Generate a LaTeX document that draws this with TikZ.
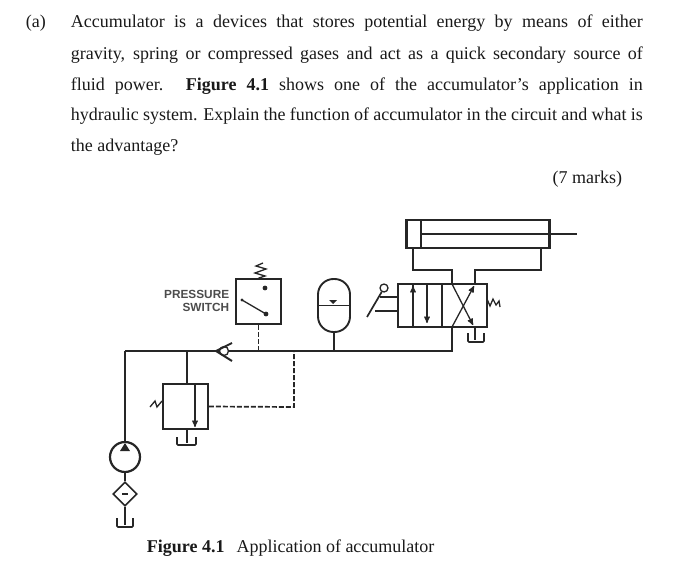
\documentclass[tikz,border=0pt]{standalone}
\usepackage{fontspec}
\setmainfont{Liberation Serif}
\setsansfont{Liberation Sans}
\usepackage{tikz}
\usetikzlibrary{arrows,shapes.geometric}

\begin{document}
\begin{tikzpicture}[>=stealth',x=1pt,y=-1pt,line width=1.7pt,
    color=black!85,
    box/.style={draw,rectangle,inner sep=0pt},
    txt/.style={inner sep=0pt,text=black!90,font=\fontsize{18pt}{20pt}\selectfont},
    thin line/.style={line width=1.3pt},
    pilot/.style={line width=1.7pt,dash pattern=on 5pt off 2pt},
    tank/.style={line width=1.6pt,rounded corners=1pt}]
\useasboundingbox (0,0) rectangle (700,572);

% question text
\node[txt,anchor=base west] (PART) at(25,28) {(a)};
\node[txt,anchor=base west] (L1) at(70,28)
  {\makebox[572pt][s]{Accumulator is a devices that stores potential energy by means of either}};
\node[txt,anchor=base west] (L2) at(70,59.5)
  {\makebox[572pt][s]{gravity, spring or compressed gases and act as a quick secondary source of}};
\node[txt,anchor=base west] (L3) at(70,90.5)
  {\makebox[572pt][s]{fluid power. \textbf{Figure 4.1} shows one of the accumulator's application in}};
\node[txt,anchor=base west] (L4) at(70,121)
  {\makebox[572pt][s]{hydraulic system. Explain the function of accumulator in the circuit and what is}};
\node[txt,anchor=base west] (L5) at(70,151) {the advantage?};
\node[txt,anchor=base east] (MARKS) at(623,183.5) {(7 marks)};
\node[txt,anchor=base west] (CAP) at(146,552.5) {\textbf{Figure 4.1}\hspace{12pt}Application of accumulator};

% cylinder
\node[box,minimum width=142pt,minimum height=28pt] (CYL) at(478,234) {};
\coordinate (PIST) at(421,234);
\draw (PIST |- CYL.north) -- (PIST |- CYL.south);
\draw[line width=2.6pt] (CYL.north west) -- (CYL.south west);
\draw[line width=2.6pt] (CYL.north east) -- (CYL.south east);
\coordinate (ROD) at(577,234);
\draw[thin line] (PIST) -- (ROD);

% directional valve
\node[box,minimum width=89pt,minimum height=43pt] (VALVE) at(442.5,305.5) {};
\draw (413,284) -- (413,327);
\draw (442,284) -- (442,327);
\draw[thin line,->] (413,305) -- (413,286);
\draw[thin line,->] (427,285) -- (427,323);
\draw[thin line,->] (452,284) -- (473,325);
\draw[thin line,->] (452,327) -- (474,286);

% lines from valve to cylinder
\coordinate (CL) at(413,270);
\coordinate (CR) at(541,270);
\draw (413,248) -- (CL) -- (452,270) -- (452,284);
\draw (541,248) -- (CR) -- (475,270) -- (475,284);

% lever and spring of valve
\node[draw,circle,thin line,minimum size=8pt,inner sep=0pt] (KNOB) at(384,288) {};
\coordinate (LEVER) at(367,317);
\draw (KNOB) -- (LEVER);
\draw[thin line] (380,297) -- (VALVE.west |- 0,297);
\draw[thin line] (375,311) -- (VALVE.west |- 0,311);
\draw[thin line] (487,299) -- (490,306) -- (493,299) -- (496,305) -- (499,301) -- (500,307);

% tank of valve
\draw (475,327) -- (475,340);
\draw[tank] (468,333) -- (468,342) -- (484,342) -- (484,333);

% main line
\coordinate (MAINL) at(125,351);
\coordinate (MAINR) at(452,351);
\draw (MAINL) -- (MAINR) -- (452,327);

% accumulator
\node[draw,rectangle,rounded corners=15.5pt,minimum width=32pt,minimum height=53pt,inner sep=0pt,line width=1.9pt] (ACC) at(334,305.5) {};
\draw[thin line] (ACC.west) -- (ACC.east);
\fill (329,300) -- (337,300) -- (333,304) -- cycle;
\draw (ACC.south) -- (ACC.south |- MAINR);

% pressure switch
\node[box,minimum width=45pt,minimum height=45pt] (SWITCH) at(258.5,301.5) {};
\node[anchor=east,inner sep=0pt,align=right,text=black!70,font=\sffamily\bfseries\fontsize{11.8pt}{13pt}\selectfont] (PSW) at(230,301) {PRESSURE\\SWITCH};
\draw[thin line] (SWITCH.north) -- (265,276) -- (255,273) -- (266,269) -- (256,266) -- (263,263);
\fill (265,288) circle (2.4pt);
\fill (266,314) circle (2.4pt);
\fill (242,300) circle (1.6pt);
\draw[thin line] (242,300) -- (266,314);
\draw[pilot] (SWITCH.south) -- (SWITCH.south |- MAINR);

% check valve
\node[draw,circle,thin line,fill=white,minimum size=9pt,inner sep=0pt] (CHECK) at(224,351) {};
\draw[line width=2pt] (232,343) -- (216,351) -- (232,361);

% relief valve
\coordinate (RTOP) at(187,351);
\node[box,minimum width=45pt,minimum height=45pt] (RELIEF) at(185.5,406.5) {};
\draw (RTOP) -- (RTOP |- RELIEF.north);
\draw[thin line,->] (195,384) -- (195,427);
\draw[thin line] (162,401) -- (157,407) -- (155,401) -- (150,407);
\coordinate (PCORNER) at(294,407);
\draw[pilot] (RELIEF.east) -- (PCORNER) -- (294,351);
\draw (187,429) -- (187,443);
\draw[tank] (177,437) -- (177,445) -- (196,445) -- (196,437);

% pump, filter and tank
\node[draw,circle,line width=2.2pt,minimum size=30pt,inner sep=0pt] (PUMP) at(125,457) {};
\fill (125,443) -- (120,451) -- (130,451) -- cycle;
\draw (MAINL) -- (PUMP.north);
\node[draw,diamond,minimum size=24pt,inner sep=0pt,line width=1.6pt] (FILTER) at(125,494) {};
\draw[thin line] (122,494) -- (128,494);
\draw (PUMP.south) -- (FILTER.north);
\draw (FILTER.south) -- (125,525);
\draw[tank] (117,518) -- (117,527) -- (133,527) -- (133,518);
\end{tikzpicture}
\end{document}
